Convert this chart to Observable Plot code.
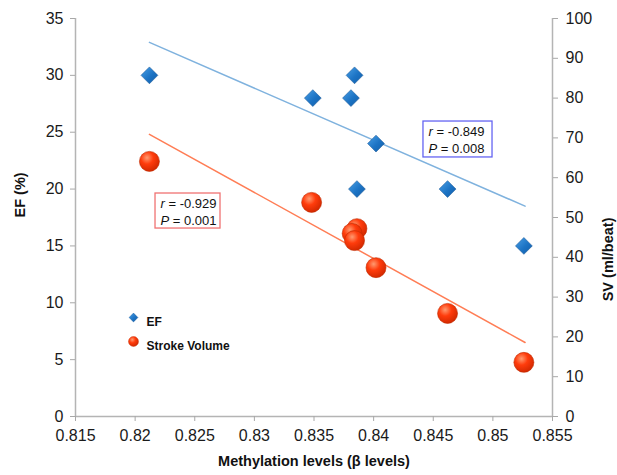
<!DOCTYPE html>
<html><head><meta charset="utf-8">
<script src="https://cdn.jsdelivr.net/npm/d3@7"></script>
<script src="https://cdn.jsdelivr.net/npm/@observablehq/plot@0.6"></script>
<style>body{margin:0;background:#fff;font-family:"Liberation Sans",Arial,Helvetica,sans-serif}</style>
</head><body><div id="chart"></div>
<script>
// EF (left axis, %)
const efMethylation = [0.8212, 0.8349, 0.8384, 0.8381, 0.8402, 0.8386, 0.8462, 0.8526];
const efValues = [30, 28, 30, 28, 24, 20, 20, 15];
// Stroke volume (right axis, ml/beat)
const svMethylation = [0.8212, 0.8348, 0.8386, 0.8382, 0.8384, 0.8402, 0.8462, 0.8526];
const svValues = [64.1, 53.8, 47.2, 46.0, 44.2, 37.4, 25.9, 13.6];
// Trend lines (endpoints)
const trendX = [0.8212, 0.8527];
const efTrend = [32.9, 18.5];
const svTrend = [70.9, 18.6];
// Ticks
const xTicks = [0.815, 0.82, 0.825, 0.83, 0.835, 0.84, 0.845, 0.85, 0.855];
const efTicks = [0, 5, 10, 15, 20, 25, 30, 35];
const svTicks = [0, 10, 20, 30, 40, 50, 60, 70, 80, 90, 100];
// Annotations
const statText = ["r = -0.929\nP = 0.001", "r = -0.849\nP = 0.008"];
const statX = [0.82213, 0.8446];
const statY = [18.07, 24.36];
const boxX1 = [0.82171, 0.84418];
const boxX2 = [0.82716, 0.84997];
const boxY1 = [16.53, 22.78];
const boxY2 = [19.61, 25.94];
const boxColor = ["#f07272", "#6464f2"];
// Legend
const legendLabels = ["EF", "Stroke Volume"];

const sv2ef = v => v * 35 / 100;
const ef = efMethylation.map((x, i) => ({x, y: efValues[i]}));
const sv = svMethylation.map((x, i) => ({x, y: sv2ef(svValues[i])}));
const efLine = trendX.map((x, i) => ({x, y: efTrend[i]}));
const svLine = trendX.map((x, i) => ({x, y: sv2ef(svTrend[i])}));
const stats = statText.map((t, i) => ({t, x: statX[i], y: statY[i]}));
const boxes = boxX1.map((x1, i) => ({x1, x2: boxX2[i], y1: boxY1[i], y2: boxY2[i], c: boxColor[i]}));

const defs = () => {
  const d = d3.create("svg:defs");
  const rg = d.append("radialGradient").attr("id", "gRed").attr("cx", "38%").attr("cy", "32%").attr("r", "70%");
  rg.append("stop").attr("offset", "0%").attr("stop-color", "#ff9a70");
  rg.append("stop").attr("offset", "45%").attr("stop-color", "#ff3c0c");
  rg.append("stop").attr("offset", "100%").attr("stop-color", "#d22800");
  const lg = d.append("linearGradient").attr("id", "gBlue").attr("x1", "0").attr("y1", "0").attr("x2", "1").attr("y2", "1");
  lg.append("stop").attr("offset", "0%").attr("stop-color", "#4aa0e6");
  lg.append("stop").attr("offset", "55%").attr("stop-color", "#1c73c4");
  lg.append("stop").attr("offset", "100%").attr("stop-color", "#125ea8");
  return d.node();
};

const axisStyle = {stroke: "#a8a8a8", fill: "#1a1a1a", fontSize: 16, tickSize: 5, label: null};

const plot = Plot.plot({
  width: 617, height: 475,
  marginLeft: 75, marginRight: 65, marginTop: 18, marginBottom: 59,
  style: {fontFamily: '"Liberation Sans", Arial, Helvetica, sans-serif', fontSize: "16px", color: "#1a1a1a", background: "#fff"},
  x: {domain: [0.815, 0.855]},
  y: {domain: [0, 35]},
  marks: [
    defs,
    Plot.ruleX([0.815, 0.855], {stroke: "#b4b4b4", strokeWidth: 1.5}),
    Plot.ruleY([0], {stroke: "#b4b4b4", strokeWidth: 1.5}),
    Plot.axisX(xTicks, {...axisStyle, tickPadding: 8, tickFormat: d3.format(".3~f")}),
    Plot.axisY(efTicks, {...axisStyle, anchor: "left", tickPadding: 7, tickFormat: d => String(d)}),
    Plot.axisY(svTicks.map(sv2ef), {...axisStyle, anchor: "right", tickPadding: 8, tickFormat: d => String(Math.round(d * 100 / 35))}),
    Plot.text(["Methylation levels (β levels)"], {frameAnchor: "bottom", dy: 49, fontWeight: "bold", fontSize: 14.5, fill: "#111"}),
    Plot.text(["EF (%)"], {frameAnchor: "left", dx: -55, rotate: -90, fontWeight: "bold", fontSize: 14.5, fill: "#111"}),
    Plot.text(["SV (ml/beat)"], {frameAnchor: "right", dx: 56, rotate: -90, fontWeight: "bold", fontSize: 14.5, fill: "#111"}),
    Plot.line(efLine, {x: "x", y: "y", stroke: "#7fb2de", strokeWidth: 1.5}),
    Plot.line(svLine, {x: "x", y: "y", stroke: "#ff7d55", strokeWidth: 1.5}),
    Plot.rect(boxes, {x1: "x1", x2: "x2", y1: "y1", y2: "y2", fill: "#fff", stroke: "c", strokeWidth: 1.3}),
    Plot.text(stats, {x: "x", y: "y", text: "t", textAnchor: "start", fontSize: 13, lineHeight: 1.3, fill: "#111"}),
    Plot.dot(sv, {x: "x", y: "y", r: 10, fill: "url(#gRed)", stroke: "#c02a00", strokeWidth: 0.6}),
    Plot.dot(ef, {x: "x", y: "y", r: 7.6, symbol: "diamond2", fill: "url(#gBlue)", stroke: "#0f4f90", strokeWidth: 0.5}),
    Plot.dot([legendLabels[0]], {frameAnchor: "top-left", dx: 58, dy: 299, r: 4, symbol: "diamond2", fill: "url(#gBlue)", stroke: "#0f4f90", strokeWidth: 0.4}),
    Plot.dot([legendLabels[1]], {frameAnchor: "top-left", dx: 58, dy: 323, r: 5, fill: "url(#gRed)", stroke: "#c02a00", strokeWidth: 0.4}),
    Plot.text([legendLabels[0]], {frameAnchor: "top-left", dx: 71, dy: 299, textAnchor: "start", fontWeight: "bold", fontSize: 12, fill: "#111"}),
    Plot.text([legendLabels[1]], {frameAnchor: "top-left", dx: 71, dy: 323, textAnchor: "start", fontWeight: "bold", fontSize: 12, fill: "#111"})
  ]
});

// italicise the leading r / P of each statistic line
Array.from(plot.querySelectorAll("tspan")).forEach(el => {
  const s = el.textContent;
  if (!/^[rP] = /.test(s)) return;
  while (el.firstChild) el.removeChild(el.firstChild);
  const it = document.createElementNS("http://www.w3.org/2000/svg", "tspan");
  it.setAttribute("font-style", "italic");
  it.textContent = s.charAt(0);
  el.appendChild(it);
  el.appendChild(document.createTextNode(s.slice(1)));
});

document.getElementById("chart").appendChild(plot);
</script>
</body></html>
